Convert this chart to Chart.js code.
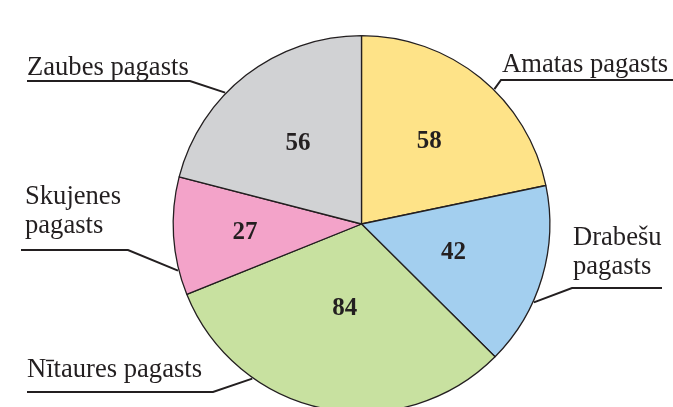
<!DOCTYPE html>
<html>
<head>
<meta charset="utf-8">
<script src="https://cdn.jsdelivr.net/npm/chart.js@4"></script>
<style>
html,body{margin:0;padding:0;background:#fff;overflow:hidden;}
#wrap{width:673px;height:420px;position:relative;}
</style>
</head>
<body>
<div id="wrap"><canvas id="c"></canvas></div>
<script>
const categories = ["Amatas pagasts", "Drabešu pagasts", "Nītaures pagasts", "Skujenes pagasts", "Zaubes pagasts"];
const values = [58, 42, 84, 27, 56];
const colors = ["#FEE388", "#A3CFEF", "#C8E1A0", "#F3A3C9", "#D1D2D4"];

// label layout (text lines, text x, baselines, underline, leader anchor fraction along slice)
const labelLines = [["Amatas pagasts"], ["Drabešu", "pagasts"], ["Nītaures pagasts"], ["Skujenes", "pagasts"], ["Zaubes pagasts"]];
const labelLayout = [
  {tx: 502, by: [72], ux1: 501, ux2: 673, uy: 80, elbow: 'left', f: 0.57},
  {tx: 573, by: [245, 274], ux1: 572, ux2: 662, uy: 288, elbow: 'left', f: 0.64},
  {tx: 27, by: [377], ux1: 27, ux2: 213, uy: 392, elbow: 'right', f: 0.71},
  {tx: 25, by: [204, 233], ux1: 21, ux2: 128, uy: 250, elbow: 'right', f: 0.21},
  {tx: 27, by: [75], ux1: 27, ux2: 190, uy: 81, elbow: 'right', f: 0.39}
];
const valueRadiusFrac = [0.57, 0.51, 0.45, 0.62, 0.55];

const labelPlugin = {
  id: 'labels',
  afterDatasetsDraw(chart) {
    const ctx = chart.ctx;
    const meta = chart.getDatasetMeta(0);
    ctx.save();
    meta.data.forEach((arc, i) => {
      const p = arc.getProps(['x', 'y', 'startAngle', 'endAngle', 'outerRadius'], true);
      const mid = (p.startAngle + p.endAngle) / 2;
      const vr = p.outerRadius * valueRadiusFrac[i];
      ctx.fillStyle = '#231f20';
      ctx.font = 'bold 25px "Liberation Serif"';
      ctx.textAlign = 'center';
      ctx.textBaseline = 'middle';
      ctx.fillText(String(values[i]), p.x + Math.cos(mid) * vr, p.y + Math.sin(mid) * vr + 1);

      const L = labelLayout[i];
      const a = p.startAngle + L.f * (p.endAngle - p.startAngle);
      const ax = p.x + Math.cos(a) * (p.outerRadius + 1);
      const ay = p.y + Math.sin(a) * (p.outerRadius + 1);
      ctx.strokeStyle = '#231f20';
      ctx.lineWidth = 2;
      ctx.beginPath();
      if (L.elbow === 'right') {
        ctx.moveTo(L.ux1, L.uy);
        ctx.lineTo(L.ux2, L.uy);
        ctx.lineTo(ax, ay);
      } else {
        ctx.moveTo(L.ux2, L.uy);
        ctx.lineTo(L.ux1, L.uy);
        ctx.lineTo(ax, ay);
      }
      ctx.stroke();

      ctx.font = '26.6px "Liberation Serif"';
      ctx.textAlign = 'left';
      ctx.textBaseline = 'alphabetic';
      labelLines[i].forEach((t, k) => ctx.fillText(t, L.tx, L.by[k]));
    });
    ctx.restore();
  }
};

new Chart(document.getElementById('c'), {
  type: 'pie',
  data: {
    labels: categories,
    datasets: [{
      data: values,
      backgroundColor: colors,
      borderColor: '#231f20',
      borderWidth: 1.3
    }]
  },
  options: {
    responsive: true,
    maintainAspectRatio: false,
    animation: false,
    layout: {padding: {top: 35, bottom: 7, left: 50, right: 0}},
    plugins: {legend: {display: false}, tooltip: {enabled: false}}
  },
  plugins: [labelPlugin]
});
</script>
</body>
</html>
